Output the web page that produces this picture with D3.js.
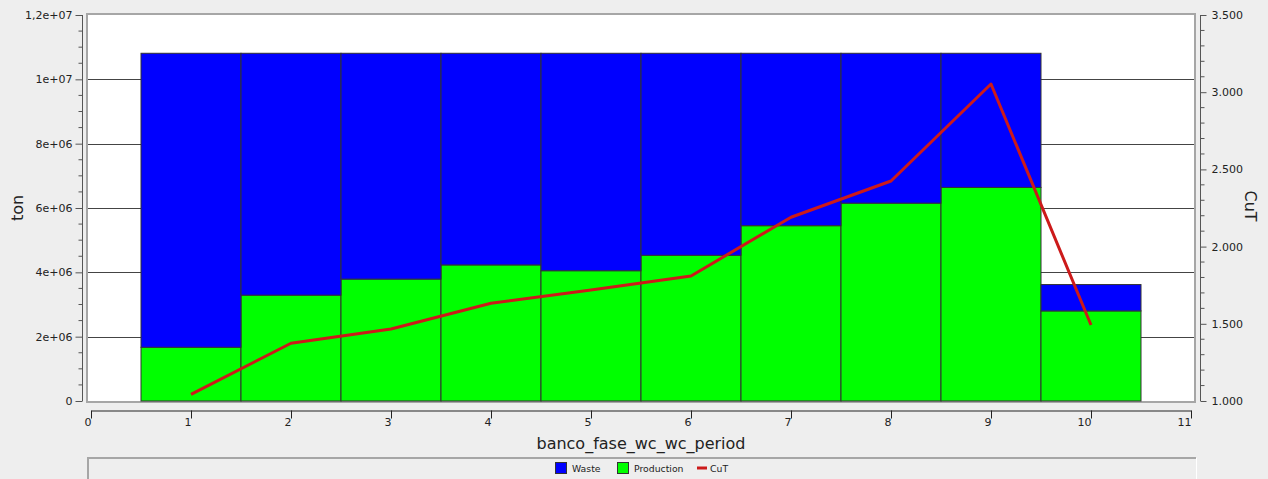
<!DOCTYPE html>
<html>
<head>
<meta charset="utf-8">
<script src="https://cdn.jsdelivr.net/npm/d3@7"></script>
<style>
  html, body { margin: 0; padding: 0; background: #eeeeee; }
  svg { display: block; }
  text { font-family: "DejaVu Sans", sans-serif; fill: #222; }
</style>
</head>
<body>
<svg id="chart" width="1268" height="479"></svg>
<script>
// Periods on the x axis
const periods = [1, 2, 3, 4, 5, 6, 7, 8, 9, 10];
// Tonnage per period (stacked: production at the bottom, waste on top)
const production = [1.67e6, 3.29e6, 3.79e6, 4.23e6, 4.05e6, 4.53e6, 5.45e6, 6.15e6, 6.64e6, 2.80e6];
const waste      = [9.14e6, 7.52e6, 7.02e6, 6.58e6, 6.76e6, 6.28e6, 5.36e6, 4.66e6, 4.17e6, 0.82e6];
// Copper grade per period (right axis)
const cut = [1.043, 1.374, 1.466, 1.633, 1.719, 1.810, 2.190, 2.425, 3.053, 1.492];

// Axis ticks and labels
const xTicks = [0, 1, 2, 3, 4, 5, 6, 7, 8, 9, 10, 11];
const tonTicks = [0, 2e6, 4e6, 6e6, 8e6, 10e6, 12e6];
const tonLabels = ["0", "2e+06", "4e+06", "6e+06", "8e+06", "1e+07", "1,2e+07"];
const cutTicks = [1.0, 1.5, 2.0, 2.5, 3.0, 3.5];
const cutLabels = ["1.000", "1.500", "2.000", "2.500", "3.000", "3.500"];

const seriesNames = ["Waste", "Production", "CuT"];
const seriesColors = { Waste: "#0000ff", Production: "#00ff00", CuT: "#cc1a1a" };

const svg = d3.select("#chart");

const x = d3.scaleLinear().domain([0, 11]).range([91, 1191]);
const yTon = d3.scaleLinear().domain([0, 12e6]).range([401, 15]);
const yCut = d3.scaleLinear().domain([1.0, 3.5]).range([401, 15]);

// Plot frame
svg.append("rect")
  .attr("x", 87).attr("y", 14).attr("width", 1108).attr("height", 388)
  .attr("fill", "#ffffff").attr("stroke", "#a6a6a6").attr("stroke-width", 2);

// Horizontal grid lines
svg.append("g").selectAll("line")
  .data(tonTicks.filter(t => t > 0 && t < 12e6))
  .join("line")
  .attr("x1", 88).attr("x2", 1194)
  .attr("y1", d => Math.round(yTon(d)) + 0.5)
  .attr("y2", d => Math.round(yTon(d)) + 0.5)
  .attr("stroke", "#444").attr("stroke-width", 1);

// Stacked bars
const stackData = periods.map((p, i) => ({ period: p, Production: production[i], Waste: waste[i] }));
const stacked = d3.stack().keys(["Production", "Waste"])(stackData);

svg.append("g").selectAll("g")
  .data(stacked)
  .join("g")
  .attr("fill", d => seriesColors[d.key])
  .selectAll("rect")
  .data(d => d)
  .join("rect")
  .attr("x", d => x(d.data.period - 0.5))
  .attr("width", d => x(d.data.period + 0.5) - x(d.data.period - 0.5))
  .attr("y", d => yTon(d[1]))
  .attr("height", d => yTon(d[0]) - yTon(d[1]))
  .attr("stroke", "#333").attr("stroke-width", 1);

// CuT line
const line = d3.line()
  .x((d, i) => x(periods[i]))
  .y(d => yCut(d));
svg.append("path")
  .datum(cut)
  .attr("d", line)
  .attr("fill", "none")
  .attr("stroke", seriesColors.CuT)
  .attr("stroke-width", 3)
  .attr("stroke-linejoin", "round");

// Left axis (ton)
const leftAxis = d3.axisLeft(yTon)
  .tickValues(tonTicks)
  .tickFormat((d, i) => tonLabels[i])
  .tickSize(7).tickPadding(3);
const gLeft = svg.append("g").attr("transform", "translate(82.5,0)").call(leftAxis);
gLeft.select(".domain").attr("stroke", "#555").attr("d", "M0,15V401");
gLeft.selectAll(".tick line").attr("stroke", "#555");
gLeft.selectAll(".tick text").attr("font-size", 11).attr("font-family", "DejaVu Sans").attr("fill", "#333");
gLeft.append("g").selectAll("line")
  .data(d3.range(0, 12e6 + 1, 0.5e6).filter(v => v % 2e6 !== 0))
  .join("line")
  .attr("x1", -4).attr("x2", 0)
  .attr("y1", d => yTon(d)).attr("y2", d => yTon(d))
  .attr("stroke", "#555");

// Right axis (CuT)
const rightAxis = d3.axisRight(yCut)
  .tickValues(cutTicks)
  .tickFormat((d, i) => cutLabels[i])
  .tickSize(6).tickPadding(5);
const gRight = svg.append("g").attr("transform", "translate(1200.5,0)").call(rightAxis);
gRight.select(".domain").attr("stroke", "#555").attr("d", "M0,15V401");
gRight.selectAll(".tick line").attr("stroke", "#555");
gRight.selectAll(".tick text").attr("font-size", 11).attr("font-family", "DejaVu Sans").attr("fill", "#333");
gRight.append("g").selectAll("line")
  .data(d3.range(1.0, 3.5001, 0.1).filter(v => Math.abs(v * 2 - Math.round(v * 2)) > 1e-6))
  .join("line")
  .attr("x1", 0).attr("x2", 4)
  .attr("y1", d => yCut(d)).attr("y2", d => yCut(d))
  .attr("stroke", "#555");

// Bottom axis (period)
const bottomAxis = d3.axisBottom(x).tickValues(xTicks).tickFormat(d3.format("d")).tickSize(8).tickSizeOuter(0);
const gBottom = svg.append("g").attr("transform", "translate(0,410.5)").call(bottomAxis);
gBottom.select(".domain").attr("stroke", "#222");
gBottom.selectAll(".tick line").attr("stroke", "#222");
gBottom.selectAll(".tick text")
  .attr("font-size", 11).attr("font-family", "DejaVu Sans").attr("fill", "#333")
  .attr("text-anchor", "end").attr("x", 0).attr("y", 8).attr("dy", "0.71em");

// Axis titles
svg.append("text")
  .attr("x", 641).attr("y", 448.5)
  .attr("text-anchor", "middle").attr("font-size", 16).attr("fill", "#111")
  .text("banco_fase_wc_wc_period");
svg.append("text")
  .attr("transform", "translate(23,208) rotate(-90)")
  .attr("text-anchor", "middle").attr("font-size", 16).attr("fill", "#111")
  .text("ton");
svg.append("text")
  .attr("transform", "translate(1245,206) rotate(90)")
  .attr("text-anchor", "middle").attr("font-size", 16).attr("fill", "#111")
  .text("CuT");

// Legend panel
svg.append("rect")
  .attr("x", 87).attr("y", 457).attr("width", 1109).attr("height", 40)
  .attr("fill", "#eeeeee");
svg.append("path")
  .attr("d", "M88,480V458H1196")
  .attr("fill", "none").attr("stroke", "#a6a6a6").attr("stroke-width", 2);
svg.append("path")
  .attr("d", "M1196.5,458V480")
  .attr("fill", "none").attr("stroke", "#ffffff").attr("stroke-width", 1);

const legendItems = [
  { name: seriesNames[0], x: 555, kind: "box" },
  { name: seriesNames[1], x: 617, kind: "box" },
  { name: seriesNames[2], x: 697, kind: "line" }
];
const lg = svg.append("g").selectAll("g").data(legendItems).join("g");
lg.filter(d => d.kind === "box").append("rect")
  .attr("x", d => d.x + 0.5).attr("y", 462.5).attr("width", 11).attr("height", 11)
  .attr("fill", d => seriesColors[d.name]).attr("stroke", "#333");
lg.filter(d => d.kind === "line").append("line")
  .attr("x1", d => d.x).attr("x2", d => d.x + 10)
  .attr("y1", 468).attr("y2", 468)
  .attr("stroke", d => seriesColors[d.name]).attr("stroke-width", 3);
lg.append("text")
  .attr("x", d => d.kind === "box" ? d.x + 17 : d.x + 13)
  .attr("y", 471.5)
  .attr("font-size", 9.3).attr("fill", "#333")
  .text(d => d.name);
</script>
</body>
</html>
